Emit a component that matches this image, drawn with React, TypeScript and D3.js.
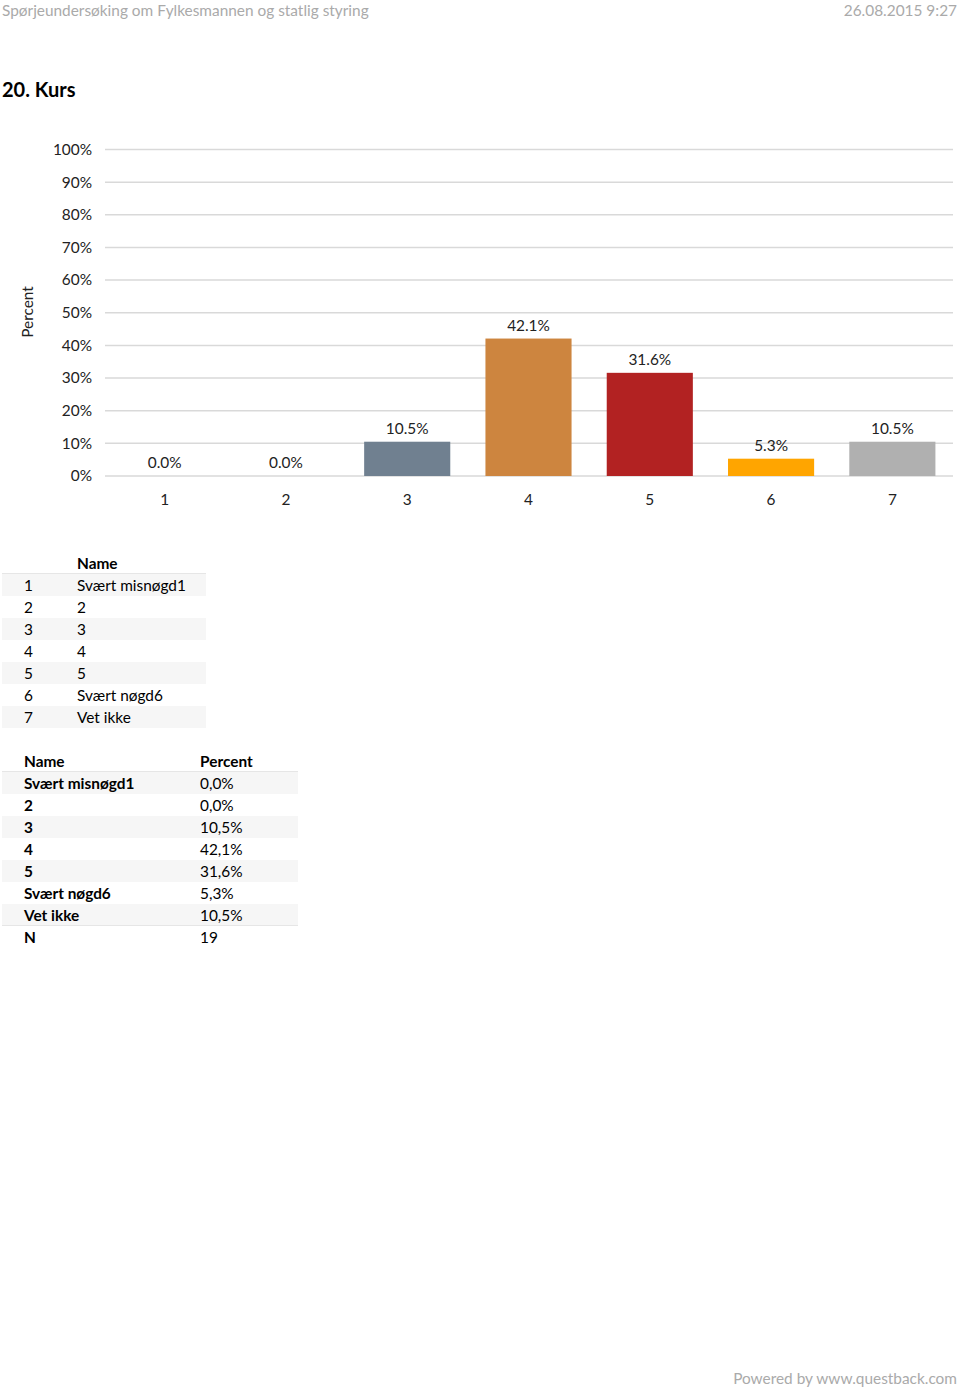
import React from "react";
import * as d3 from "d3";

const categories = ["1", "2", "3", "4", "5", "6", "7"];
const values = [0, 0, 10.5, 42.1, 31.6, 5.3, 10.5];
const barColors = ["#708090", "#708090", "#708090", "#CD853F", "#B22222", "#FFA500", "#B0B0B0"];
const names = ["Svært misnøgd1", "2", "3", "4", "5", "Svært nøgd6", "Vet ikke"];
const yTicks = [0, 10, 20, 30, 40, 50, 60, 70, 80, 90, 100];
const nTotal = 19;

const FONT = "Lato, 'Open Sans', sans-serif";

export default function App() {
  const W = 960, H = 1387;
  const x = d3.scaleBand<string>().domain(categories).range([104, 953]).paddingInner(0.29).paddingOuter(0.145);
  const y = d3.scaleLinear().domain([0, 100]).range([476, 149.5]);
  const fmtDot = (v: number) => v.toFixed(1) + "%";
  const fmtComma = (v: number) => v.toFixed(1).replace(".", ",") + "%";

  const t1Top = 574, rowH = 22;
  const t2Top = 772;

  return (
    <svg width={W} height={H} style={{ position: "absolute", left: 0, top: 0, fontFamily: FONT }}>
      <rect width={W} height={H} fill="#fff" />
      <text x={2} y={16} fontSize={15.4} fill="#aaaaaa">Spørjeundersøking om Fylkesmannen og statlig styring</text>
      <text x={957} y={16} fontSize={15.4} fill="#aaaaaa" textAnchor="end">26.08.2015 9:27</text>
      <text x={2} y={97} fontSize={20} fontWeight="bold" fill="#000">20. Kurs</text>

      {yTicks.map((t) => (
        <g key={t}>
          <line x1={105} x2={953} y1={y(t)} y2={y(t)} stroke="#d9d9d9" strokeWidth={1.5} />
          <text x={92} y={y(t)} dy="0.35em" fontSize={15.4} textAnchor="end" fill="#222">{t}%</text>
        </g>
      ))}
      <text transform="translate(33,312) rotate(-90)" fontSize={15.4} textAnchor="middle" fill="#222">Percent</text>

      {categories.map((c, i) => (
        <g key={c}>
          {values[i] > 0 && (
            <rect x={x(c)} y={y(values[i])} width={x.bandwidth()} height={y(0) - y(values[i])} fill={barColors[i]} />
          )}
          <text x={(x(c) as number) + x.bandwidth() / 2} y={y(values[i]) - 8} fontSize={15.4} textAnchor="middle" fill="#222">{fmtDot(values[i])}</text>
          <text x={(x(c) as number) + x.bandwidth() / 2} y={505} fontSize={15.4} textAnchor="middle" fill="#222">{c}</text>
        </g>
      ))}

      <text x={77} y={569} fontSize={15.4} fontWeight="bold" fill="#000">Name</text>
      <line x1={2} x2={206} y1={t1Top - 0.5} y2={t1Top - 0.5} stroke="#e6e6e6" />
      {categories.map((c, i) => (
        <g key={"t1" + c}>
          {i % 2 === 0 && <rect x={2} y={t1Top + i * rowH} width={204} height={rowH} fill="#f6f6f6" />}
          <text x={24} y={t1Top + i * rowH + 17} fontSize={15.4} fill="#000">{c}</text>
          <text x={77} y={t1Top + i * rowH + 17} fontSize={15.4} fill="#000">{names[i]}</text>
        </g>
      ))}

      <text x={24} y={767} fontSize={15.4} fontWeight="bold" fill="#000">Name</text>
      <text x={200} y={767} fontSize={15.4} fontWeight="bold" fill="#000">Percent</text>
      <line x1={2} x2={298} y1={t2Top - 0.5} y2={t2Top - 0.5} stroke="#e6e6e6" />
      {names.map((n, i) => (
        <g key={"t2" + i}>
          {i % 2 === 0 && <rect x={2} y={t2Top + i * rowH} width={296} height={rowH} fill="#f6f6f6" />}
          <text x={24} y={t2Top + i * rowH + 17} fontSize={15.4} fontWeight="bold" fill="#000">{n}</text>
          <text x={200} y={t2Top + i * rowH + 17} fontSize={15.4} fill="#000">{fmtComma(values[i])}</text>
        </g>
      ))}
      <line x1={2} x2={298} y1={t2Top + 7 * rowH - 0.5} y2={t2Top + 7 * rowH - 0.5} stroke="#e6e6e6" />
      <text x={24} y={t2Top + 7 * rowH + 17} fontSize={15.4} fontWeight="bold" fill="#000">N</text>
      <text x={200} y={t2Top + 7 * rowH + 17} fontSize={15.4} fill="#000">{nTotal}</text>

      <text x={957} y={1384} fontSize={15.4} fill="#aaaaaa" textAnchor="end">Powered by www.questback.com</text>
    </svg>
  );
}
